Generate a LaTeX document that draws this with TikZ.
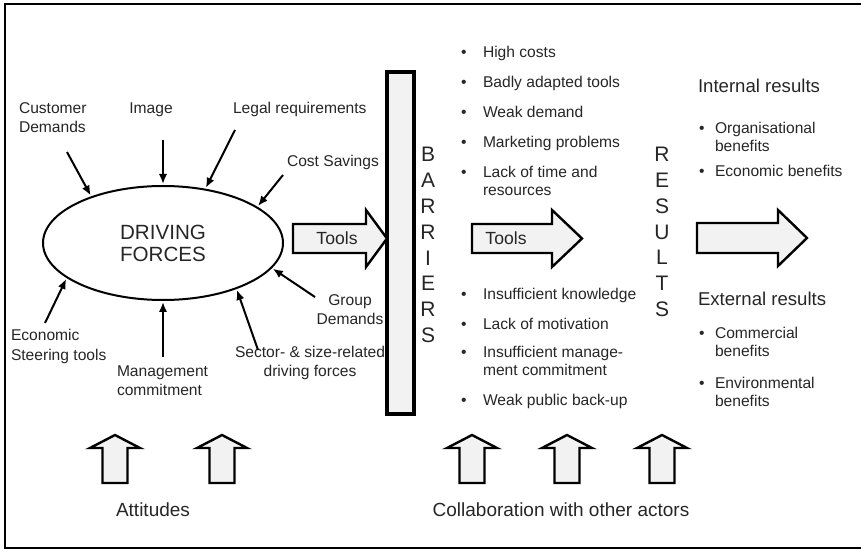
\documentclass[tikz,border=0pt]{standalone}
\usepackage{fontspec}
\setmainfont{Liberation Sans}
\usetikzlibrary{arrows.meta,shapes.geometric}

\newcommand\bul[1][11pt]{\makebox[#1][l]{\textbullet}}

\begin{document}
\begin{tikzpicture}[>={Latex[length=5pt,width=4.2pt]},x=0.5pt,y=-0.5pt,line width=1pt]
  \tikzstyle{lab}=[inner sep=0pt, align=left, text=black!85,
                   font=\fontsize{7.8}{9.5}\selectfont]
  \tikzstyle{bul}=[lab, anchor=base west, font=\fontsize{7.8}{9}\selectfont]
  \tikzstyle{head}=[inner sep=0pt, anchor=base west, text=black!85,
                    font=\fontsize{9.3}{11}\selectfont]
  \tikzstyle{vert}=[inner sep=0pt, align=center, text=black!85,
                    font=\fontsize{10.5}{12.9}\selectfont]
  \tikzstyle{block}=[draw=black, fill=gray!10, line width=1.2pt]
  \tikzstyle{force}=[->, shorten >=0.5pt]

  \useasboundingbox (0,0) rectangle (861,550);
  \draw (880,4) -- (5,4) -- (5,548) -- (880,548);

  % driving forces
  \node[draw, ellipse, minimum width=120pt, minimum height=57pt, align=center,
        text=black!85, font=\fontsize{10.3}{11}\selectfont] (DF) at (163,243) {DRIVING\\FORCES};

  % multi-line labels sit on the baseline of their last line
  \node[lab, anchor=base west]          (cust)  at (18,133)  {Customer\\Demands};
  \node[lab, anchor=base]               (img)   at (151,114) {Image};
  \node[lab, anchor=base west]          (legal) at (232,114) {Legal requirements};
  \node[lab, anchor=base west]          (cost)  at (286,167) {Cost Savings};
  \node[lab, anchor=base, align=center] (grp)   at (350,325) {Group\\Demands};
  \node[lab, anchor=base west]          (econ)  at (10,360)  {Economic\\Steering tools};
  \node[lab, anchor=base west]          (mgmt)  at (116,395) {Management\\commitment};
  \node[lab, anchor=base, align=center] (sect)  at (310,377) {Sector- \& size-related\\driving forces};

  \coordinate (cust-s)  at (67,152);
  \coordinate (img-s)   at (163,140);
  \coordinate (legal-s) at (235,130);
  \coordinate (cost-s)  at (283,175);
  \coordinate (grp-s)   at (315,297);
  \coordinate (sect-s)  at (258,350);
  \coordinate (mgmt-s)  at (163,357);
  \coordinate (econ-s)  at (45,323);

  \path[force] (cust-s)  edge (DF.147)
               (img-s)   edge (DF.90)
               (legal-s) edge (DF.52)
               (cost-s)  edge (DF.21)
               (grp-s)   edge (DF.-13)
               (sect-s)  edge (DF.-32)
               (mgmt-s)  edge (DF.-90)
               (econ-s)  edge (DF.-160);

  % tools into the barriers
  \node[draw, fill=gray!10, line width=1.8pt, minimum width=13.5pt, minimum height=171pt,
        inner sep=0pt] (bar) at (400.5,243) {};
  \draw[block] (293,224) -- (366,224) -- (366,210) -- (387,238.5) -- (366,267)
               -- (366,253) -- (293,253) -- cycle;
  \node[text=black!85, font=\fontsize{8.8}{10}\selectfont] (tools1) at (337,238) {Tools};
  \node[vert] (barr) at (428,245) {B\\A\\R\\R\\I\\E\\R\\S};

  % barriers
  \node[bul] (b1) at (460,58)  {\bul High costs};
  \node[bul] (b2) at (460,88)  {\bul Badly adapted tools};
  \node[bul] (b3) at (460,118) {\bul Weak demand};
  \node[bul] (b4) at (460,148) {\bul Marketing problems};
  \node[bul] (b5) at (460,196) {\bul Lack of time and\\\hspace*{11pt}resources};
  \node[bul] (b6) at (460,300) {\bul Insufficient knowledge};
  \node[bul] (b7) at (460,329) {\bul Lack of motivation};
  \node[bul] (b8) at (460,375) {\bul Insufficient manage-\\\hspace*{11pt}ment commitment};
  \node[bul] (b9) at (460,405) {\bul Weak public back-up};

  \draw[block] (472,224) -- (552,224) -- (552,210) -- (582,238.5) -- (552,267)
               -- (552,253) -- (472,253) -- cycle;
  \node[text=black!85, font=\fontsize{8.8}{10}\selectfont] (tools2) at (506,238) {Tools};

  % results
  \node[vert] (res) at (662,232) {R\\E\\S\\U\\L\\T\\S};
  \node[head] (int) at (697,93)  {Internal results};
  \node[bul]  (r1)  at (698,152) {\bul[8pt]Organisational\\\hspace*{8pt}benefits};
  \node[bul]  (r2)  at (698,177) {\bul[8pt]Economic benefits};
  \node[head] (ext) at (697,306) {External results};
  \node[bul]  (r3)  at (698,357) {\bul[8pt]Commercial\\\hspace*{8pt}benefits};
  \node[bul]  (r4)  at (698,406) {\bul[8pt]Environmental\\\hspace*{8pt}benefits};
  \draw[block] (697,223) -- (778,223) -- (778,210) -- (807,238) -- (778,266)
               -- (778,253) -- (697,253) -- cycle;

  % support from below
  \foreach \x in {115,222,472,567,662}
    \draw[block] (\x-12.5,483) -- (\x-12.5,448) -- (\x-25,448) -- (\x,435)
                 -- (\x+25,448) -- (\x+12.5,448) -- (\x+12.5,483) -- cycle;
  \node[text=black!85, anchor=base, font=\fontsize{9.5}{11}\selectfont] (att) at (153,516) {Attitudes};
  \node[text=black!85, anchor=base, font=\fontsize{9.5}{11}\selectfont] (coll) at (561,516) {Collaboration with other actors};
\end{tikzpicture}
\end{document}
